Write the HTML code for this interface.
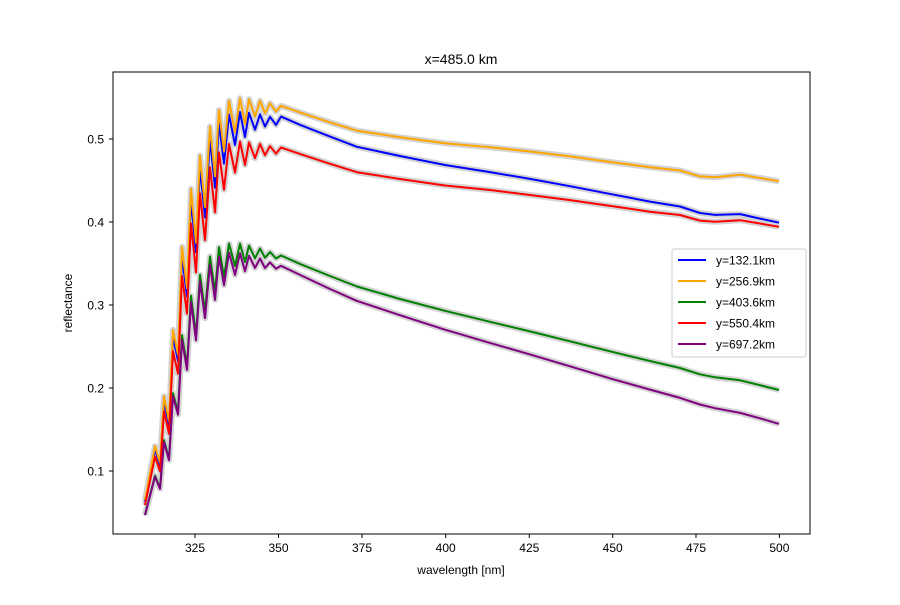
<!DOCTYPE html>
<html><head><meta charset="utf-8"><style>
body{margin:0;background:#fff}
svg text{font-family:"Liberation Sans","DejaVu Sans",sans-serif}
</style></head><body>
<svg width="900" height="600" xmlns="http://www.w3.org/2000/svg" xmlns:xlink="http://www.w3.org/1999/xlink">
<rect width="900" height="600" fill="#fff"/>
<defs>
<path id="pb" d="M145 501.6L155 449.3L160 465.4L164 401L169 425.2L173 336.6L178 360.8L182 256.1L187 296.4L191 199.8L196 252.1L200 167.6L205 217.5L210 139.4L215 187.7L219 123.3L224 163.6L229 114.4L235 145L240 112L245 137L249 112.8L255 129.7L260 114.4L265 126.5L270 116.8L276 124.9L281 116.6L300 124.8L330 136.6L357 146.8L400 156L445 165L490 172.1L530 178.9L570 186.2L612 194.3L650 201.6L680 206.5L700 213L715 214.9L740 214.1L760 218.6L779 222.7"/>
<path id="po" d="M145 500L155 446.1L160 462.7L164 396.3L169 421.2L173 329.9L178 354.8L182 246.9L187 288.4L191 188.8L196 242.8L200 155.6L205 207.1L210 126.6L215 176.4L219 110L224 151.5L229 100.8L235 132.4L240 98.3L245 124.1L249 99.2L255 116.6L260 100.8L265 113.3L270 103.3L276 111.6L281 105.8L300 112.4L330 122.4L357 130.7L400 137.3L445 143.2L490 147.3L530 151.5L570 156.4L612 162.2L650 167.2L680 170.5L700 176.4L715 177.2L740 174.7L760 178L779 181.3"/>
<path id="pg" d="M145 514.6L155 475.6L160 487.9L164 440.1L169 458.5L173 393.3L178 411.8L182 335.3L187 365.7L191 295.8L196 334.9L200 274.7L205 311.5L210 256.5L215 292.3L219 247.2L224 277.1L229 243.6L235 266L240 243.7L245 262.1L249 245.6L255 258.3L260 248.5L265 257.8L270 252L276 258.5L281 255.5L300 263.9L330 276L357 286.5L400 299L445 310.8L490 321.8L530 331.4L570 341.3L612 351.8L650 361L680 368L700 374.3L715 377.3L740 380.3L760 385.2L779 390"/>
<path id="pr" d="M145 505.1L155 456.4L160 471.4L164 411.3L169 433.8L173 351.2L178 373.7L182 276.1L187 313.6L191 223.5L196 272.4L200 193.4L205 240.1L210 167.2L215 212.3L219 152.2L224 189.7L229 143.9L235 172.5L240 141.6L245 164.9L249 142.4L255 158.2L260 143.9L265 155.2L270 146.1L276 153.6L281 147.5L300 153.9L330 163.8L357 172.2L400 179L445 185.5L490 190L530 195L570 200.1L612 206.1L650 211.7L680 215L700 220.6L715 221.7L740 220.2L760 223.5L779 226.8"/>
<path id="pp" d="M145 515.1L155 476.6L160 488.9L164 442L169 460.2L173 396.2L178 414.6L182 340L187 369.9L191 302L196 340.2L200 281.5L205 318.1L210 264.6L215 299.9L219 256.5L224 285.1L229 252.6L235 274.9L240 253.2L245 271.1L249 255.7L255 267.9L260 258.5L265 268L270 262.4L276 268.7L281 265.8L300 274.9L330 289L357 300.9L400 315.2L445 329.7L490 342.9L530 354.4L570 366.3L612 378.9L650 389.6L680 397.9L700 404.5L715 408.2L740 412.9L760 418.3L779 423.9"/>
</defs>
<g fill="none" stroke="#d3d3d3" stroke-width="6" stroke-linejoin="round">
<use xlink:href="#pb"/><use xlink:href="#po"/><use xlink:href="#pg"/><use xlink:href="#pr"/><use xlink:href="#pp"/>
</g>
<g fill="none" stroke-width="2" stroke-linejoin="round">
<use xlink:href="#pb" stroke="blue"/><use xlink:href="#po" stroke="orange"/><use xlink:href="#pg" stroke="green"/><use xlink:href="#pr" stroke="red"/><use xlink:href="#pp" stroke="purple"/>
</g>
<rect x="113" y="72" width="697" height="462" fill="none" stroke="#000" stroke-width="1"/>
<g font-size="12" fill="#000" text-anchor="middle" stroke-width="1">
<line x1="195" y1="534" x2="195" y2="538" stroke="#000"/><text x="195" y="552">325</text>
<line x1="278.5" y1="534" x2="278.5" y2="538" stroke="#000"/><text x="278.5" y="552">350</text>
<line x1="362" y1="534" x2="362" y2="538" stroke="#000"/><text x="362" y="552">375</text>
<line x1="445.7" y1="534" x2="445.7" y2="538" stroke="#000"/><text x="445.7" y="552">400</text>
<line x1="529.3" y1="534" x2="529.3" y2="538" stroke="#000"/><text x="529.3" y="552">425</text>
<line x1="612.7" y1="534" x2="612.7" y2="538" stroke="#000"/><text x="612.7" y="552">450</text>
<line x1="696" y1="534" x2="696" y2="538" stroke="#000"/><text x="696" y="552">475</text>
<line x1="779.4" y1="534" x2="779.4" y2="538" stroke="#000"/><text x="779.4" y="552">500</text>
<text x="461" y="574">wavelength [nm]</text>
<text x="461" y="64" font-size="14">x=485.0 km</text>
</g>
<g font-size="12" text-anchor="end">
<line x1="109" y1="139" x2="113" y2="139" stroke="#000"/><text x="104" y="143.5">0.5</text>
<line x1="109" y1="222" x2="113" y2="222" stroke="#000"/><text x="104" y="226.5">0.4</text>
<line x1="109" y1="305" x2="113" y2="305" stroke="#000"/><text x="104" y="309.5">0.3</text>
<line x1="109" y1="388" x2="113" y2="388" stroke="#000"/><text x="104" y="392.5">0.2</text>
<line x1="109" y1="471" x2="113" y2="471" stroke="#000"/><text x="104" y="475.5">0.1</text>
</g>
<text x="72" y="303" font-size="12" text-anchor="middle" transform="rotate(-90 72 303)">reflectance</text>
<g font-size="12">
<rect x="672" y="249" width="134" height="108" fill="#fff" fill-opacity="0.8" stroke="#ccc" rx="2"/>
<line x1="678" y1="260" x2="706" y2="260" stroke="blue" stroke-width="2"/><text x="716" y="264.5">y=132.1km</text>
<line x1="678" y1="281" x2="706" y2="281" stroke="orange" stroke-width="2"/><text x="716" y="285.5">y=256.9km</text>
<line x1="678" y1="302" x2="706" y2="302" stroke="green" stroke-width="2"/><text x="716" y="306.5">y=403.6km</text>
<line x1="678" y1="323" x2="706" y2="323" stroke="red" stroke-width="2"/><text x="716" y="327.5">y=550.4km</text>
<line x1="678" y1="344" x2="706" y2="344" stroke="purple" stroke-width="2"/><text x="716" y="348.5">y=697.2km</text>
</g>
</svg>
</body></html>
